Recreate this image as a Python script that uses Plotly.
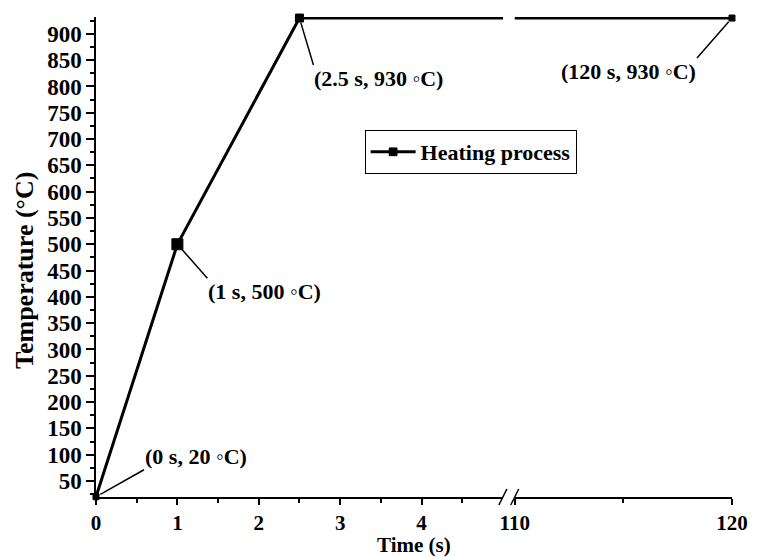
import plotly.graph_objects as go

# ---- data ----
time_s = [0, 1, 2.5, 120]
temp_c = [20, 500, 930, 930]
point_labels = ["(0 s, 20 ◦C)", "(1 s, 500 ◦C)", "(2.5 s, 930 ◦C)", "(120 s, 930 ◦C)"]
series_name = "Heating process"

x_left_ticks = [0, 1, 2, 3, 4]
x_left_minor = [0.5, 1.5, 2.5, 3.5, 4.5]
x_right_ticks = [110, 120]
x_right_minor = [115]
y_ticks = list(range(50, 901, 50))
y_minor = list(range(25, 926, 50))

x_left_range = [0, 5]
x_right_range = [110, 120]
y_range = [19.5, 932]

# ---- style ----
FONT = "Liberation Serif"
marker_sizes = [6, 11, 8, 6]
# (ax, ay, xanchor, yanchor, axis) for each label leader line
label_style = [
    (48, -27, "left", "bottom", "x"),
    (30, 34, "left", "top", "x"),
    (14, 47, "left", "top", "x"),
    (-35, 40, "right", "top", "x2"),
]

fig = go.Figure()
for xa, show in (("x", True), ("x2", False)):
    fig.add_trace(go.Scatter(
        x=time_s, y=temp_c, mode="lines+markers", name=series_name,
        xaxis=xa, yaxis="y", showlegend=show, cliponaxis=False,
        line=dict(color="black", width=3),
        marker=dict(symbol="square", size=marker_sizes, color="black",
                    opacity=1, line=dict(width=1, color="black")),
    ))

annotations = []
for (tx, ty, lab, st) in zip(time_s, temp_c, point_labels, label_style):
    ax, ay, xan, yan, xr = st
    annotations.append(dict(
        x=tx, y=ty, xref=xr, yref="y", text=lab, showarrow=True,
        arrowhead=0, arrowwidth=1.5, arrowcolor="black", ax=ax, ay=ay,
        xanchor=xan, yanchor=yan, standoff=5, borderpad=0,
        font=dict(family=FONT, size=22, color="black", weight="bold"),
    ))
annotations.append(dict(
    x=0.5, y=0, xref="paper", yref="paper", text="Time (s)", showarrow=False,
    xanchor="center", yanchor="middle", yshift=-48, borderpad=0,
    font=dict(family=FONT, size=21, color="black", weight="bold"),
))
annotations.append(dict(
    x=0, y=(497 - 271) / 480, xref="paper", yref="paper", text="Temperature (°C)",
    showarrow=False, textangle=-90, xanchor="center", yanchor="middle",
    xshift=-72, borderpad=0,
    font=dict(family=FONT, size=26, color="black", weight="bold"),
))

d1 = 412 / 644
d2 = 424 / 644
axis_common = dict(
    showline=True, linecolor="black", linewidth=1.5, ticks="outside",
    tickwidth=1.5, tickcolor="black", showgrid=False, zeroline=False,
    mirror=False,
)
xtickfont = dict(family=FONT, size=21, color="black", weight="bold")
ytickfont = dict(family=FONT, size=23, color="black", weight="bold")

fig.update_layout(
    width=760, height=557,
    margin=dict(l=96, r=20, t=17, b=60),
    paper_bgcolor="white", plot_bgcolor="white",
    font=dict(family=FONT, size=22, color="black", weight="bold"),
    xaxis=dict(domain=[0, d1], range=x_left_range, anchor="y", ticklen=6,
               tickfont=xtickfont,
               tickvals=x_left_ticks, ticktext=[str(v) for v in x_left_ticks],
               minor=dict(tickvals=x_left_minor, ticklen=4, tickwidth=1.5,
                          tickcolor="black", ticks="outside"),
               **axis_common),
    xaxis2=dict(domain=[d2, 1], range=x_right_range, anchor="y", ticklen=6,
                tickfont=xtickfont,
                tickvals=x_right_ticks, ticktext=[str(v) for v in x_right_ticks],
                minor=dict(tickvals=x_right_minor, ticklen=4, tickwidth=1.5,
                           tickcolor="black", ticks="outside"),
                **axis_common),
    yaxis=dict(domain=[0, 1], range=y_range, anchor="x", ticklen=8,
               tickfont=ytickfont,
               tickvals=y_ticks, ticktext=[str(v) for v in y_ticks],
               minor=dict(tickvals=y_minor, ticklen=4, tickwidth=1.5,
                          tickcolor="black", ticks="outside"),
               **axis_common),
    legend=dict(x=(368 - 96) / 644, y=(497 - 130) / 480, xanchor="left", yanchor="top",
                bgcolor="white", bordercolor="black", borderwidth=1, itemwidth=45,
                font=dict(family=FONT, size=22, color="black", weight="bold")),
    annotations=annotations,
    showlegend=True,
)

# axis break marks "//" at the ends of the two x-axis pieces
for px in (d1, d2):
    fig.add_shape(type="line", xref="paper", yref="paper", xsizemode="pixel", ysizemode="pixel",
                  xanchor=px, yanchor=0, x0=-4, x1=4, y0=-8, y1=8,
                  line=dict(color="black", width=1.5))

fig.write_html("out.html")
